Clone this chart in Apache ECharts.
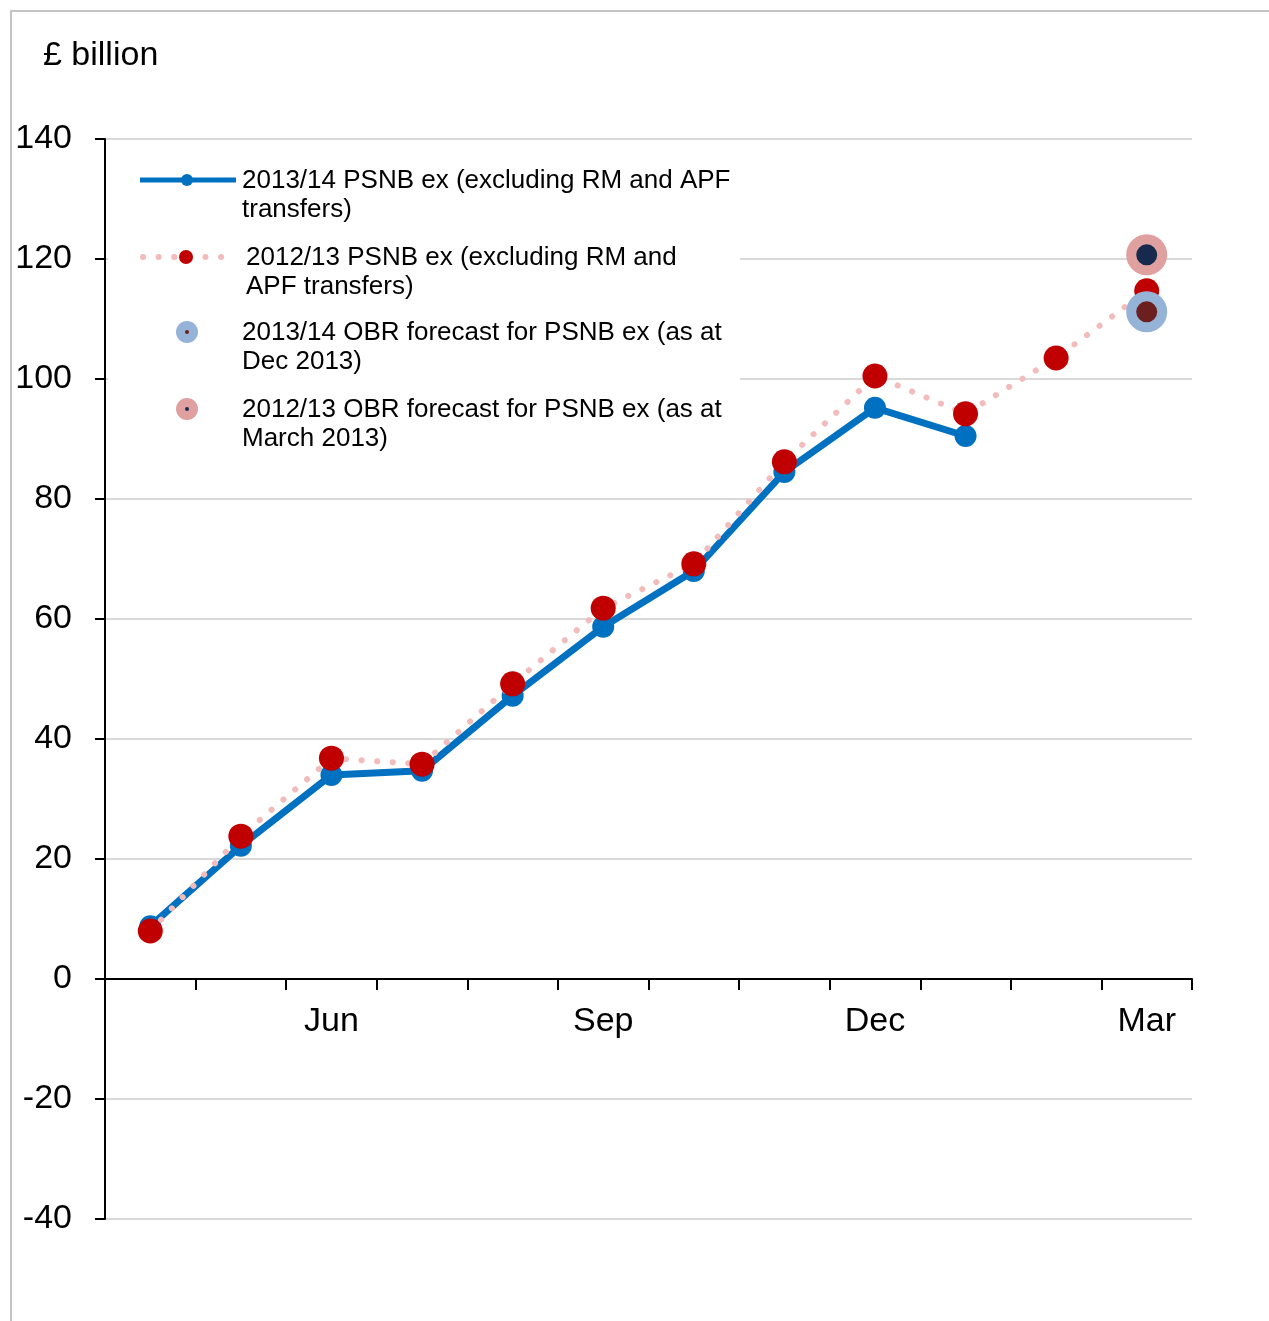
<!DOCTYPE html>
<html>
<head>
<meta charset="UTF-8">
<title>PSNB ex</title>
<script src="https://cdn.jsdelivr.net/npm/echarts@6/dist/echarts.min.js"></script>
<style>
  html, body { margin: 0; padding: 0; background: #fff; }
  #frame {
    position: absolute; left: 10px; top: 10px; right: 0; bottom: 0;
    border-top: 2px solid #c4c4c4; border-left: 2px solid #c4c4c4;
  }
  #main { position: absolute; left: 0; top: 0; width: 1269px; height: 1321px; }
</style>
</head>
<body>
<div id="frame"></div>
<div id="main"></div>
<script>
  // months of the financial year
  var months = ['Apr', 'May', 'Jun', 'Jul', 'Aug', 'Sep', 'Oct', 'Nov', 'Dec', 'Jan', 'Feb', 'Mar'];
  // 2013/14 PSNB ex, cumulative £bn
  var psnb1314 = [8.8, 22.2, 34.0, 34.7, 47.2, 58.7, 68.0, 84.5, 95.2, 90.5, null, null];
  // 2012/13 PSNB ex, cumulative £bn
  var psnb1213 = [8.0, 23.8, 36.8, 35.8, 49.2, 61.8, 69.2, 86.2, 100.5, 94.2, 103.5, 114.7];
  // OBR forecasts (year end)
  var obr1314 = [null, null, null, null, null, null, null, null, null, null, null, 111.2];
  var obr1213 = [null, null, null, null, null, null, null, null, null, null, null, 120.7];
  var shownMonths = ['Jun', 'Sep', 'Dec', 'Mar'];

  var legendNames = [
    ['2013/14 PSNB ex (excluding RM and APF', 'transfers)'],
    ['2012/13 PSNB ex (excluding RM and', 'APF transfers)'],
    ['2013/14 OBR forecast for PSNB ex (as at', 'Dec 2013)'],
    ['2012/13 OBR forecast for PSNB ex (as at', 'March 2013)']
  ];

  var font = 'Liberation Sans, Arial, sans-serif';
  var blue = '#0070c0', red = '#c00000', pink = '#f2bcbc';

  var chart = echarts.init(document.getElementById('main'));

  // legend drawn as graphic so the icon lines up with the first text line
  var legendRows = [180, 257, 332, 409];
  var legendGraphic = [{
    type: 'rect', left: 108, top: 150, shape: { width: 632, height: 305 },
    style: { fill: '#fff' }, z: 50
  }];
  legendRows.forEach(function (y, i) {
    if (i === 0) {
      legendGraphic.push({ type: 'line', shape: { x1: 140, y1: y, x2: 236, y2: y },
        style: { stroke: blue, lineWidth: 5 }, z: 51 });
      legendGraphic.push({ type: 'circle', shape: { cx: 187, cy: y, r: 6 }, style: { fill: blue }, z: 52 });
    } else if (i === 1) {
      legendGraphic.push({ type: 'line', shape: { x1: 143, y1: y, x2: 228, y2: y },
        style: { stroke: pink, lineWidth: 6, lineDash: [0.1, 15.5], lineCap: 'round' }, z: 51 });
      legendGraphic.push({ type: 'circle', shape: { cx: 186, cy: y, r: 7 }, style: { fill: red }, z: 52 });
    } else {
      var outer = i === 2 ? '#95b3d7' : '#e0a0a0';
      var inner = i === 2 ? '#6b1f1f' : '#17294d';
      legendGraphic.push({ type: 'circle', shape: { cx: 187, cy: y, r: 11 }, style: { fill: outer }, z: 51 });
      legendGraphic.push({ type: 'circle', shape: { cx: 187, cy: y, r: 2 }, style: { fill: inner }, z: 52 });
    }
    legendGraphic.push({
      type: 'text', left: i === 1 ? 246 : 242, top: y - 14, z: 52,
      style: { text: legendNames[i].join('\n'), font: '26px ' + font, fill: '#000', lineHeight: 29 }
    });
  });

  var option = {
    animation: false,
    title: {
      text: '£ billion', left: 38, top: 34,
      textStyle: { fontFamily: font, fontSize: 34, fontWeight: 'normal', color: '#000' }
    },
    grid: { left: 105, right: 77, top: 139, bottom: 102 },
    xAxis: {
      type: 'category',
      data: months,
      boundaryGap: true,
      offset: -240,
      axisLine: { onZero: false, lineStyle: { color: '#000', width: 2 } },
      axisTick: { show: true, interval: 0, length: 11, lineStyle: { color: '#000', width: 2 } },
      axisLabel: {
        interval: function (idx, val) { return shownMonths.indexOf(val) >= 0; },
        margin: 26, fontFamily: font, fontSize: 34, color: '#000'
      },
      splitLine: { show: false }
    },
    yAxis: {
      type: 'value',
      min: -40, max: 140, interval: 20,
      axisLine: { show: true, lineStyle: { color: '#000', width: 2 } },
      axisTick: { show: true, length: 10, lineStyle: { color: '#000', width: 2 } },
      axisLabel: { margin: 33, fontFamily: font, fontSize: 34, color: '#000', padding: [4, 0, 0, 0] },
      splitLine: { lineStyle: { color: '#d9d9d9', width: 2 } }
    },
    graphic: legendGraphic,
    series: [
      {
        name: legendNames[0].join(' '), type: 'line', data: psnb1314, z: 3,
        symbol: 'circle', symbolSize: 22, connectNulls: false,
        lineStyle: { color: blue, width: 7 }, itemStyle: { color: blue }
      },
      {
        name: legendNames[1].join(' '), type: 'line', data: psnb1213, z: 4,
        symbol: 'circle', symbolSize: 25,
        lineStyle: { color: pink, width: 6, type: [0.1, 15.5], cap: 'round' },
        itemStyle: { color: red }
      },
      {
        name: legendNames[2].join(' '), type: 'scatter', data: obr1314, z: 6,
        symbolSize: 31,
        itemStyle: { color: '#6b1f1f', borderColor: '#95b3d7', borderWidth: 10, opacity: 1 }
      },
      {
        name: legendNames[3].join(' '), type: 'scatter', data: obr1213, z: 5,
        symbolSize: 31,
        itemStyle: { color: '#17294d', borderColor: '#e0a0a0', borderWidth: 10, opacity: 1 }
      }
    ]
  };
  chart.setOption(option);
</script>
</body>
</html>
